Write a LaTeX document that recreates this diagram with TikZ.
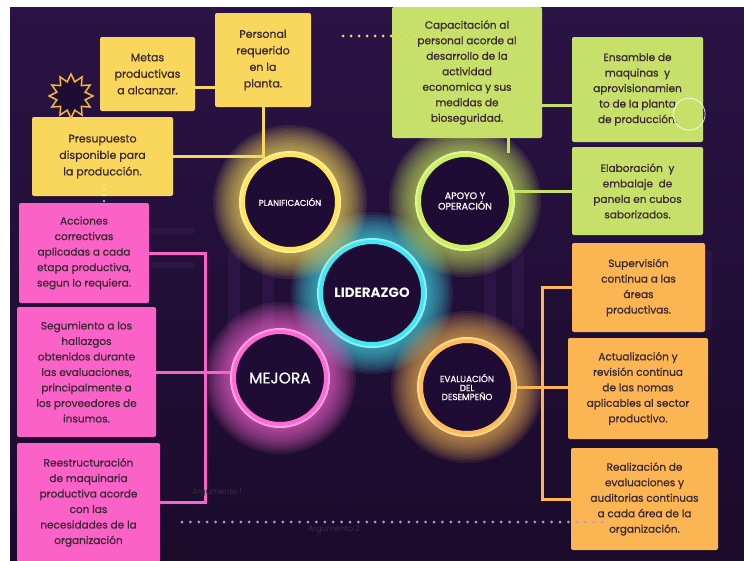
\documentclass[tikz,border=0pt]{standalone}
\usepackage{fontspec}
\setmainfont{Poppins}
\newfontfamily\medium{Poppins}[FakeBold=0.7]
\usepackage{tikz}
\usetikzlibrary{shapes.geometric}
\definecolor{custom_bg_top}{HTML}{2A1345}
\definecolor{custom_bg_bot}{HTML}{1A0B2B}
\definecolor{custom_rack}{HTML}{6A3A9A}
\definecolor{custom_hub}{HTML}{1E0C35}
\definecolor{custom_text}{HTML}{3A2833}
\definecolor{custom_faint}{HTML}{3A2C47}
\definecolor{custom_yellow}{HTML}{F9D65C}
\definecolor{custom_green}{HTML}{C6E06A}
\definecolor{custom_pink}{HTML}{FB62C8}
\definecolor{custom_orange}{HTML}{FBB653}
\definecolor{custom_cyan}{HTML}{45E6F2}
\definecolor{custom_ring_y}{HTML}{FFE45C}
\definecolor{custom_ring_g}{HTML}{CDEF5E}
\definecolor{custom_ring_p}{HTML}{FF6AD5}
\definecolor{custom_ring_o}{HTML}{FFBD55}
\definecolor{custom_star}{HTML}{F6B93B}
\definecolor{custom_dots}{HTML}{B59AE8}
\pgfdeclarelayer{back}
\pgfdeclarelayer{links}
\pgfdeclarelayer{glow}
\pgfsetlayers{back,links,glow,main}

\begin{document}
\begin{tikzpicture}[x=1pt, y=-1pt,
    every node/.style={font=\medium\fontsize{10.5}{15.5}\selectfont, text=custom_text},
    box/.style={rectangle, rounded corners=2pt, inner sep=0pt, align=center},
    ybox/.style={box, fill=custom_yellow, font=\medium\fontsize{11}{16.5}\selectfont},
    gbox/.style={box, fill=custom_green},
    pbox/.style={box, fill=custom_pink},
    obox/.style={box, fill=custom_orange},
    hub/.style={circle, fill=custom_hub, line width=4pt, inner sep=0pt, text=white, align=center},
    link/.style={line width=3pt}]

    \useasboundingbox (0,0) rectangle (744,560);

    % Draw the background
    \begin{pgfonlayer}{back}
      \fill[white] (0,0) rectangle (744,560);
      \shade[top color=custom_bg_top, bottom color=custom_bg_bot] (10,7) rectangle (744,560);
      \foreach \x in {228,262,484,512,700}
        \fill[custom_rack, opacity=0.14, rounded corners=3pt] (\x,250) rectangle ++(12,80);
      \foreach \y in {228,262}
        \fill[custom_rack, opacity=0.14, rounded corners=3pt] (150,\y) rectangle ++(45,6);
    \end{pgfonlayer}

    % Central circles
    \node[hub, draw=custom_cyan, minimum size=102, font=\bfseries\fontsize{13.5}{15}\selectfont] (lider) at (372,293) {LIDERAZGO};
    \node[hub, draw=custom_ring_y, minimum size=94, font=\medium\fontsize{8.5}{9.5}\selectfont] (plan) at (290,202) {PLANIFICACIÓN};
    \node[hub, draw=custom_ring_g, minimum size=92, font=\medium\fontsize{9.5}{10.5}\selectfont] (apoyo) at (465,201) {APOYO Y\\OPERACIÓN};
    \node[hub, draw=custom_ring_p, minimum size=92, font=\medium\fontsize{15.5}{17}\selectfont] (mejora) at (280,378) {MEJORA};
    \node[hub, draw=custom_ring_o, minimum size=92, font=\medium\fontsize{8.8}{9}\selectfont] (evalu) at (467,387) {EVALUACIÓN\\DEL\\DESEMPEÑO};

    % Glow round each circle
    \begin{pgfonlayer}{glow}
      \foreach \c/\col/\r in {lider/custom_cyan/51, plan/custom_ring_y/47, apoyo/custom_ring_g/46, mejora/custom_ring_p/46, evalu/custom_ring_o/46} {
        \foreach \k in {1,...,12}
          \fill[\col, opacity=0.09] (\c.center) circle ({\r+2.5*\k});
        \fill[\col!60!white] (\c.center) circle ({\r+4});
      }
    \end{pgfonlayer}

    % Planificacion (yellow boxes)
    \node[ybox, minimum width=95, minimum height=74] (metas) at (147.5,74) {Metas\\productivas\\a alcanzar.};
    \node[ybox, minimum width=96, minimum height=94] (personal) at (263,60) {Personal\\requerido\\en la\\planta.};
    \node[ybox, minimum width=141, minimum height=79] (presup) at (102.5,156.5) {Presupuesto\\disponible para\\la producción.};
    \node[star, star points=12, star point ratio=1.5, draw=custom_star, fill=custom_hub, line width=1.5pt, minimum size=44, inner sep=0pt] (sun) at (71,96) {};

    % Apoyo y operacion (green boxes)
    \node[gbox, minimum width=150, minimum height=131] (capac) at (467,72.5) {Capacitación al\\personal acorde al\\desarrollo de la\\actividad\\economica y sus\\medidas de\\bioseguridad.};
    \node[gbox, minimum width=131, minimum height=105] (ensamble) at (637.5,89.5) {Ensamble de\\maquinas\ \ y\\aprovisionamien\\to de la planta\\de producción.};
    \node[gbox, minimum width=131, minimum height=88] (elabor) at (637.5,191) {Elaboración\ \ y\\embalaje\ \ de\\panela en cubos\\saborizados.};

    % Mejora (pink boxes)
    \node[pbox, minimum width=130, minimum height=100] (accion) at (84,253) {Acciones\\correctivas\\aplicadas a cada\\etapa productiva,\\segun lo requiera.};
    \node[pbox, minimum width=139, minimum height=130] (segui) at (86.5,372) {Segumiento a los\\hallazgos\\obtenidos durante\\las evaluaciones,\\principalmente a\\los proveedores de\\insumos.};
    \node[pbox, minimum width=143, minimum height=119] (reest) at (88.5,502.5) {Reestructuración\\de maquinaria\\productiva acorde\\con las\\necesidades de la\\organización};

    % Evaluacion del desempeno (orange boxes)
    \node[obox, minimum width=133, minimum height=89] (superv) at (638.5,287.5) {Supervisión\\continua a las\\áreas\\productivas.};
    \node[obox, minimum width=140, minimum height=101] (actual) at (638,388.5) {Actualización y\\revisión continua\\de las nomas\\aplicables al sector\\productivo.};
    \node[obox, minimum width=147, minimum height=102] (realiz) at (644.5,499) {Realización de\\evaluaciones y\\auditorias continuas\\a cada área de la\\organización.};

    % Faint labels left in the picture
    \node[text=custom_faint, font=\fontsize{8}{9}\selectfont] (arg1) at (217,493) {Argumento 1};
    \node[text=custom_faint, font=\fontsize{8}{9}\selectfont] (arg2) at (334,530) {Argumento 2};

    % Connectors
    \begin{pgfonlayer}{links}
      \draw[link, custom_yellow] ([yshift=-13pt]metas.east) coordinate (m1) -- (m1 -| personal.west);
      \draw[link, custom_yellow] (personal.south) |- (presup.east);
      \draw[link, custom_green] ([xshift=41pt]capac.south) -- ([xshift=41pt]capac.south |- apoyo.north);
      \draw[link, custom_green] ([yshift=-16pt]ensamble.west) coordinate (e1) -- (e1 -| capac.east);
      \draw[link, custom_green] (apoyo.east |- elabor.west) -- (elabor.west);
      \draw[link, custom_pink] (accion.east) -| ([xshift=45pt]reest.east) -- (reest.east);
      \draw[link, custom_pink] (segui.east) -- (segui.east -| mejora.west);
      \draw[link, custom_orange] (superv.west) -| ([xshift=-28pt]realiz.west) -- (realiz.west);
      \draw[link, custom_orange] (evalu.east) -- (evalu.east -| actual.west);
    \end{pgfonlayer}

    % Dotted lines
    \draw[custom_yellow, line width=3pt, line cap=round, dash pattern=on 0pt off 8pt] (343,36) -- (447,36);
    \draw[custom_dots, line width=3pt, line cap=round, dash pattern=on 0pt off 8.4pt] (182,522) -- (605,522);
    \draw[white, line width=2pt, line cap=round, dash pattern=on 0pt off 6pt] (104,189) -- (104,203);

    % Comment bubble
    \draw[white, line width=0.8pt, opacity=0.85] (676,105) arc (215:-140:16) -- (673,113) -- cycle;

\end{tikzpicture}
\end{document}
